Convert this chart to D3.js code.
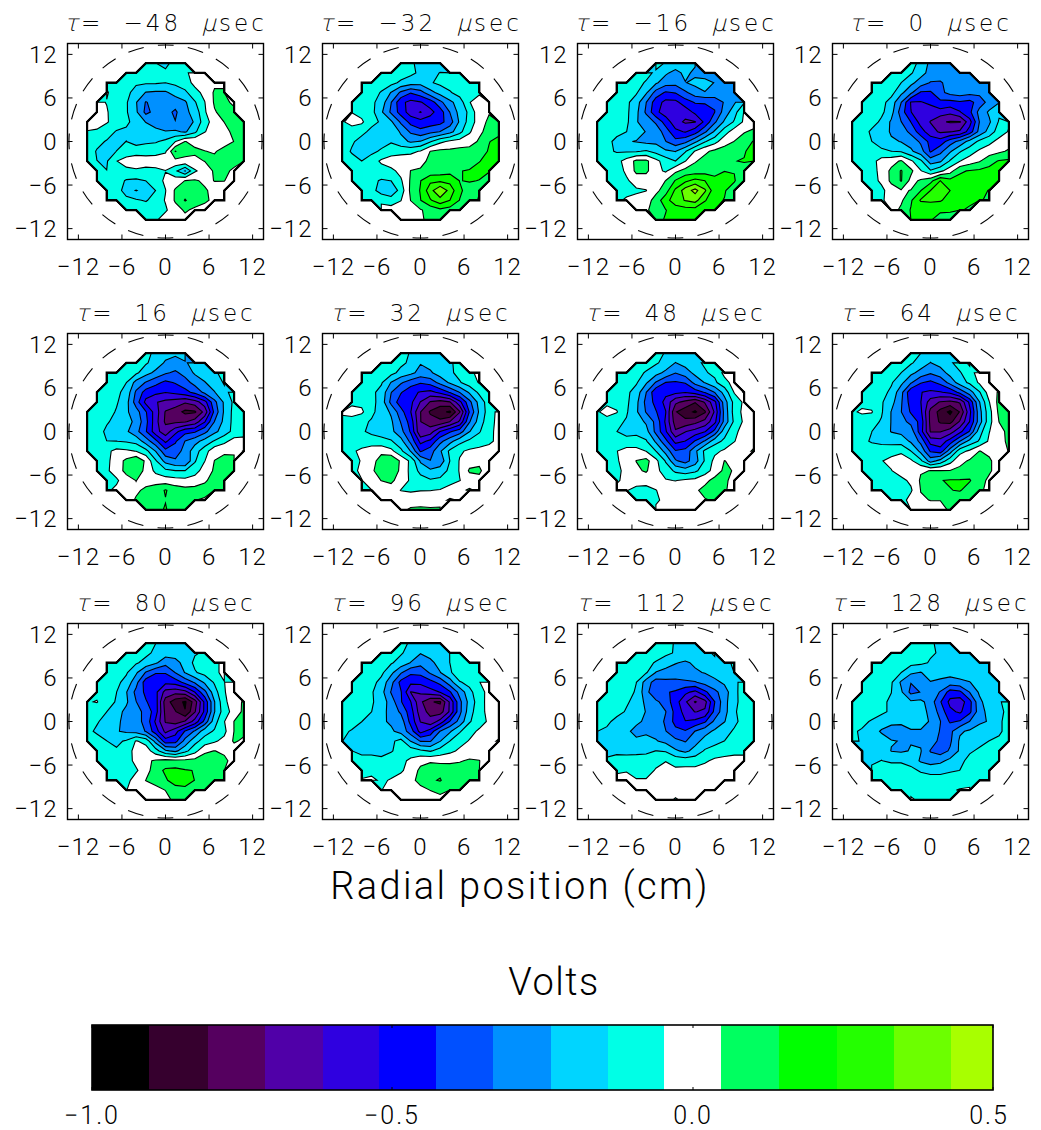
<!DOCTYPE html>
<html>
<head>
<meta charset="utf-8">
<script src="https://cdn.jsdelivr.net/npm/d3@7"></script>
<style>
  html, body { margin: 0; padding: 0; background: #fff; }
  text { font-family: Roboto, "Liberation Sans", sans-serif; font-weight: 300; fill: #000; white-space: pre; }
  text.title { font-family: "DejaVu Sans Light", "DejaVu Sans", Roboto, sans-serif; font-weight: 200; }
</style>
</head>
<body>
<div id="chart"></div>
<script>
// Floating potential maps, one panel per time delay. Grid values in hundredths of a volt,
// read off the picture. Rows run top (y = +10.8 cm) to bottom, each row centred on x = 0.
const tauValues = ["\u221248", "\u221232", "\u221216", "0", "16", "32", "48", "64", "80", "96", "112", "128"];

const gridM48 = [
  [-8,-14,-17,-10,-6],
  [-8,-8,-9,-10,-12,-9,-6,-2,-1],
  [-6,-7,-10,-13,-13,-13,-14,-12,-9,-2,0,3,3],
  [-4,-8,-12,-17,-24,-25,-25,-20,-16,-8,-2,6,6],
  [-3,-5,-8,-13,-23,-34,-29,-29,-29,-25,-15,-5,6,7,3],
  [-2,-4,-9,-13,-22,-36,-30,-30,-35,-26,-20,-6,4,8,7],
  [-2,-1,-4,-8,-12,-18,-24,-28,-31,-33,-31,-22,-9,0,5,9,8],
  [-5,-6,-9,-15,-16,-17,-18,-21,-23,-22,-25,-16,-5,-2,2,7,8],
  [-7,-11,-15,-16,-14,-18,-16,-15,-12,-5,5,3,1,0,1,5,8],
  [-8,-15,-18,-14,-10,-8,-8,-8,-6,14.6,7,6,5,4,8,8,7],
  [-9,-14,-15,-5,-1,0,-1,0,1,2,3,3,5,7,8,8,7],
  [-8,-14,-9,-7,-6,-7,-7,-5,-12,-24,-6,0,6,7,3],
  [-6,-8,-10,-15,-16,-14,-9,-3,0,5,6,3,5,5,1],
  [-10,-8,-20,-24,-20,-14,-5,6,9,10,6,2,0],
  [-6,-8,-10,-13,-15,-10,-4,6,15,9,7,2,0],
  [-6,-7,-8,-8,-6,1,6,3,0],
  [-7,-6,0,0,2]
];
const gridM32 = [
  [-9,-12,-18,-20,-16],
  [-7,-8,-9,-12,-16,-15,-14,-11,-12],
  [-6,-7,-8,-11,-16,-19,-20,-15,-12,-10,-12,-9,-7],
  [-7,-9,-15,-24,-35,-42,-37,-27,-20,-15,-10,-8,-6],
  [-6,-8,-12,-18,-33,-50,-55,-53,-48,-36,-26,-19,-5,-1,1],
  [-5,-8,-11,-22,-35,-47,-57,-62,-55,-48,-33,-20,-12,2,4],
  [-6,-1,-3,-12,-15,-22,-35,-46,-49,-48,-46,-38,-22,-10,0,7,7],
  [-9,-10,-12,-16,-17,-16,-25,-35,-40,-36,-33,-27,-17,-6,3,8,12],
  [-10,-13,-17,-19,-17,-15,-20,-25,-23,-15,-7,-3,-1,1,6,14,17],
  [-10,-15,-22,-16,-13,-9,-8,-7,-4,5,7,7,8,8,11,15,19],
  [-10,-11,-14,-10,-3,0,1,1,2,7,8,8,9,10,14,17,18],
  [-9,-10,-9,-9,-7,-2,5,6,8,9,11,14,15,17,15],
  [-9,-10,-12,-15,-14,-6,6,14,22,22,21,14,15,14,10],
  [-9,-11,-18,-22,-10,7,15,30,42,30,16,10,14],
  [-6,-5,-7,-9,-5,5,14,23,30,24,14,11,15],
  [-1,-1,0,1,4,8,12,10,7],
  [0,1,3,8,8]
];
const gridM16 = [
  [-10,-15,-17,-21,-22],
  [-9,-11,-16,-22,-27,-21,-26,-29,-26],
  [-8,-9,-11,-15,-22,-29,-30,-24,-21,-20,-24,-28,-24],
  [-8,-9,-13,-22,-37,-44,-42,-35,-28,-24,-24,-28,-26],
  [-8,-8,-12,-19,-33,-48,-55,-55,-47,-42,-42,-42,-32,-25,-15],
  [-8,-9,-12,-21,-35,-50,-57,-61,-58,-50,-47,-43,-29,-18,-4],
  [-9,-9,-10,-12,-23,-27,-35,-47,-58,-63,-62,-50,-35,-22,-13,-3,0],
  [-10,-10,-11,-14,-20,-24,-27,-38,-50,-53,-47,-35,-22,-9,0,4,7],
  [-10,-11,-17,-23,-24,-26,-26,-33,-40,-36,-26,-15,-8,1,5,10,15],
  [-10,-12,-15,-15,-15,-13,-17,-22,-24,-15,-4,3,7,9,11,13,20],
  [-10,-10,-8,-1,7,7,-2,-9,-14,-5,4,8,10,13,14,15,16],
  [-10,-9,-3,7,7,-2,-6,3,8,9,10,11,14,14,10],
  [-10,-14,-6,-1,-1,-2,5,15,22,27,24,17,20,15,8],
  [-9,-8,-6,-5,2,10,26,38,46,35,18,15,10],
  [-7,-3,-2,0,9,20,30,34,37,25,16,14,9],
  [-1,2,13,14,18,20,20,15,16],
  [12,15,17,15,14]
];
const grid0 = [
  [-10,-17,-26,-26,-27],
  [-9,-9,-13,-20,-27,-30,-28,-28,-28],
  [-7,-8,-9,-14,-21,-28,-34,-34,-31,-29,-28,-28,-27],
  [-7,-8,-11,-21,-31,-44,-44,-36,-30,-28,-30,-31,-33],
  [-7,-8,-11,-18,-33,-53,-53,-50,-45,-46,-44,-46,-38,-30,-24],
  [-8,-8,-12,-20,-38,-52,-60,-58,-56,-59,-53,-45,-30,-22,-16],
  [-8,-9,-10,-16,-25,-33,-43,-56,-62,-70,-72,-72,-56,-33,-25,-13,-6],
  [-8,-9,-16,-18,-25,-28,-36,-48,-58,-63,-62,-60,-48,-30,-20,-9,-4],
  [-8,-10,-14,-19,-22,-24,-27,-35,-46,-48,-38,-30,-20,-12,-7,-2,1],
  [-9,-10,-11,-12,-14,-15,-22,-29,-44,-36,-25,-15,-9,-3,0,3,6],
  [-9,-9,-8,-1,1,6,-3,-12,-28,-25,-13,-5,0,4,11,15,16],
  [-9,-8,-2,7,15,7,-4,-13,-7,1,13,15,16,17,15],
  [-9,-8,-3,7,15,2,6,11,24,17,17,16,18,18,14],
  [-8,-7,0,4,5,14,24,27,24,18,17,16,14],
  [-6,-6,-1,3,13,25,26,25,20,17,16,15,13],
  [0,7,15,16,16,16,16,15,13],
  [16,16,15,10,8]
];
const grid16 = [
  [-13,-15,-20,-22,-17],
  [-9,-10,-13,-18,-25,-27,-25,-19,-17],
  [-7,-8,-10,-12,-20,-26,-32,-35,-30,-22,-20,-16,-10],
  [-8,-9,-14,-27,-34,-40,-45,-42,-37,-30,-24,-20,-13],
  [-8,-9,-12,-17,-35,-47,-50,-52,-50,-46,-40,-31,-24,-17,-10],
  [-8,-9,-13,-20,-38,-55,-61,-64,-66,-70,-66,-56,-36,-22,-12],
  [-8,-9,-10,-15,-22,-29,-42,-57,-72,-76,-83,-82,-68,-40,-22,-11,-8],
  [-8,-9,-13,-17,-20,-26,-40,-58,-73,-73,-72,-67,-53,-33,-21,-11,-8],
  [-9,-10,-16,-19,-22,-30,-42,-58,-67,-55,-46,-44,-36,-26,-19,-11,-8],
  [-9,-11,-14,-14,-15,-17,-28,-40,-54,-44,-33,-27,-20,-13,-7,-1,-2],
  [-8,-9,-7,-2,-3,-5,-11,-24,-40,-38,-30,-18,-9,2,3,4,5],
  [-8,-7,0,7,13,3,-13,-27,-32,-33,-15,-5,5,8,6],
  [-8,-6,-1,8,11,2,-7,-12,-14,-14,-9,0,6,8,5],
  [-8,-6,0,5,1,1,0,-1,-2,0,4,7,7],
  [-6,-3,-1,3,7,10,15,10,8,8,7,7,6],
  [0,6,9,11,14,9,7,5,4],
  [8,12,15,10,6]
];
const grid32 = [
  [-10,-15,-17,-18,-17],
  [-9,-9,-12,-16,-23,-20,-17,-15,-12],
  [-7,-8,-9,-11,-17,-21,-27,-25,-19,-16,-11,-7,-2],
  [-8,-9,-13,-24,-32,-38,-42,-39,-30,-22,-15,-9,-4],
  [-7,-8,-12,-17,-33,-42,-50,-53,-55,-50,-42,-33,-22,-12,-6],
  [-7,-7,-11,-18,-36,-48,-50,-62,-72,-75,-72,-55,-36,-20,-9],
  [-3,-1,-3,-12,-18,-25,-39,-52,-71,-82,-88,-92,-72,-42,-22,-9,-2],
  [-8,-9,-12,-15,-17,-22,-34,-47,-71,-77,-78,-71,-60,-34,-19,-8,-2],
  [-9,-10,-13,-16,-18,-21,-30,-44,-70,-66,-52,-44,-38,-24,-15,-7,-2],
  [-9,-9,-9,-10,-11,-13,-20,-36,-55,-50,-36,-27,-17,-12,-9,-6,-3],
  [-8,-6,-3,1,3,-2,-12,-24,-44,-38,-25,-12,-6,-3,-2,-2,-2],
  [-8,-4,2,8,14,3,-7,-25,-33,-30,-14,-4,1,2,-3],
  [-7,-3,3,10,14,2,-7,-17,-22,-19,-12,-4,6,7,-3],
  [-5,0,5,7,0,-6,-10,-13,-12,-8,-5,0,1],
  [-6,-5,-2,0,-5,-6,-5,-5,-4,-1,3,6,3],
  [-1,0,1,1,0,1,2,6,4],
  [3,6,7,6,6]
];
const grid48 = [
  [-10,-15,-17,-17,-16],
  [-9,-10,-13,-17,-24,-20,-16,-13,-8],
  [-7,-8,-11,-15,-20,-26,-33,-28,-21,-15,-12,-2,0],
  [-7,-9,-13,-22,-34,-43,-44,-42,-30,-23,-16,-8,-1],
  [-7,-8,-12,-18,-33,-50,-50,-50,-52,-48,-42,-33,-20,-4,6],
  [-7,-8,-12,-21,-36,-46,-55,-69,-74,-80,-70,-55,-28,-11,-3],
  [-6,-1,-4,-13,-22,-34,-42,-52,-80,-86,-92,-82,-60,-30,-10,-2,-2],
  [-8,-9,-12,-15,-19,-25,-36,-54,-76,-78,-74,-68,-55,-30,-12,-3,-2],
  [-9,-10,-14,-17,-16,-20,-36,-51,-70,-62,-58,-53,-40,-18,-7,-1,-1],
  [-9,-9,-10,-11,-11,-13,-25,-40,-55,-52,-42,-32,-18,-12,-5,-1,2],
  [-8,-8,-5,-1,-1,-5,-14,-27,-42,-40,-26,-12,-7,-3,0,2,6],
  [-7,-6,0,5,8,-2,-15,-32,-37,-28,-13,-2,5,3,1],
  [-8,-7,-2,3,6,-2,-9,-16,-19,-16,-9,-1,7,4,0],
  [-6,-2,0,-1,0,-4,-5,-3,-2,2,8,7,1],
  [-2,-4,-8,-8,-5,-1,1,1,3,8,11,6,1],
  [-6,-9,-7,-1,0,1,2,4,6],
  [-2,0,1,1,1]
];
const grid64 = [
  [-10,-14,-18,-17,-16],
  [-9,-10,-13,-18,-24,-20,-16,-9,-3],
  [-7,-8,-10,-14,-21,-27,-32,-28,-20,-15,-8,-1,0],
  [-7,-9,-13,-21,-32,-42,-45,-40,-30,-19,-12,-3,0],
  [-7,-8,-11,-16,-30,-50,-52,-54,-53,-50,-40,-28,-15,0,6],
  [-7,-8,-13,-20,-32,-47,-52,-66,-72,-74,-70,-50,-24,-5,8],
  [-6,-3.5,-4,-13,-24,-33,-44,-50,-74,-84,-93,-80,-55,-27,-8,7,8],
  [-8,-9,-11,-15,-24,-30,-36,-46,-74,-82,-84,-70,-52,-28,-8,5,8],
  [-9,-10,-14,-19,-24,-26,-28,-48,-72,-72,-66,-55,-42,-18,-5,2,7],
  [-10,-12,-15,-17,-18,-18,-25,-36,-56,-58,-48,-33,-20,-13,-3,1,7],
  [-13,-9,-9,-8,-7,-6,-14,-26,-44,-48,-28,-8,-3,5,3,3,5],
  [-8,-7,-5,-3,-1,-3,-12,-28,-20,-8,2,6,8,6,1],
  [-8,-8,-7,-5,-1,0,4,5,5,5,7,10,9,6,1],
  [-8,-8,-9,-7,-3,6,8,14,15,15,15,8,3],
  [-7,-7,-10,-9,-6,5,8,10,14,15,10,6,3],
  [-8,-9,-1,4,5,5,7,8,6],
  [-4,0,1,2,6]
];
const grid80 = [
  [-9,-14,-16,-17,-15],
  [-9,-10,-12,-16,-19,-19,-18,-15,-13],
  [-7,-8,-10,-13,-17,-22,-30,-27,-20,-12,-10,-7,-2],
  [-7,-9,-13,-22,-34,-42,-42,-33,-23,-15,-11,-7,-2],
  [-7,-8,-12,-17,-30,-48,-50,-50,-48,-40,-32,-22,-13,-5,3],
  [-7,-9,-14,-23,-36,-45,-50,-65,-68,-65,-52,-36,-18,-6,5],
  [-5.5,-4.2,-10,-15,-22,-33,-42,-48,-76,-86,-92,-76,-50,-24,-7,1,6],
  [-8,-10,-14,-20,-26,-30,-36,-48,-74,-80,-90,-72,-50,-24,-9,-1,7],
  [-9,-13,-18,-22,-26,-30,-36,-54,-72,-76,-70,-58,-40,-18,-5,5,7],
  [-11,-16,-17,-23,-25,-27,-34,-48,-64,-56,-42,-32,-18,-13,-7,5,7],
  [-12,-9,-14,-16,-13,-4,-8,-27,-48,-46,-30,-17,-10,-6,-2,6,3],
  [-9,-11,-13,-7,-3,0,-10,-22,-26,-17,-8,3,5,3,0],
  [-9,-9,-13,-9,-2,3,6,8,7,7,8,10,12,7,1],
  [-8,-9,-10,-6,1,10,16,17,15,14,11,8,5],
  [-7,-7,-8,0,5,8,13,19,20,14,10,7,5],
  [-5,0,1,2,5,10,11,7,5],
  [1,1,2,7,7]
];
const grid96 = [
  [-12,-15,-18,-17,-15],
  [-9,-10,-13,-18,-23,-20,-18,-14,-11],
  [-7,-8,-10,-13,-18,-24,-30,-26,-20,-14,-8,-10,-6],
  [-7,-9,-12,-21,-32,-41,-40,-32,-24,-16,-6,-7,-5],
  [-7,-8,-11,-17,-30,-46,-50,-50,-46,-40,-28,-15,-11,-5,-1],
  [-7,-9,-13,-20,-34,-42,-62,-60,-56,-52,-44,-30,-17,-8,-2],
  [-7,-8,-10,-13,-18,-28,-42,-52,-69,-80,-82,-60,-36,-20,-9,-1,-1],
  [-8,-9,-11,-14,-20,-27,-35,-48,-67,-74,-76,-60,-36,-18,-8,-2,-1],
  [-9,-10,-14,-18,-22,-25,-28,-46,-62,-68,-58,-42,-30,-15,-9,-3,-1],
  [-12,-15,-18,-19,-20,-22,-27,-38,-56,-48,-33,-25,-15,-8,-3,-1,1],
  [-14,-16,-18,-18,-18,-16,-11,-24,-34,-34,-24,-14,-8,-4,-2,2,6],
  [-14,-17,-17,-17,-15,-10,-9,-12,-15,-10,-7,-3,-1,0,3],
  [-13,-10,-10,-12,-9,-7,-3,2,3,2,3,4,6,5,1],
  [-8,-7,-7,-8,-6,-1,7,12,12,9,9,8,5],
  [-4,-3,-6,-4,-1,2,8,13,15,9,9,8,6],
  [-5,-1,1,1,2,5,7,6,5],
  [0,0,0,1,2]
];
const grid112 = [
  [-8,-11,-15,-16,-15],
  [-7,-8,-9,-12,-15,-17,-18,-16,-13],
  [-7,-8,-9,-11,-15,-19,-23,-25,-22,-18,-16,-16,-13],
  [-7,-8,-10,-13,-24,-27,-28,-27,-25,-23,-20,-17,-14],
  [-7,-8,-10,-14,-28,-38,-36,-36,-35,-34,-30,-26,-22,-16,-11],
  [-7,-8,-11,-15,-30,-42,-42,-44,-50,-55,-45,-36,-28,-17,-9],
  [-6,-7,-9,-13,-17,-26,-31,-38,-48,-60,-72,-65,-43,-27,-16,-11,-8],
  [-7,-8,-11,-15,-19,-24,-29,-33,-46,-56,-62,-60,-40,-27,-15,-11,-8],
  [-10,-12,-17,-19,-22,-25,-27,-35,-46,-52,-50,-44,-31,-24,-16,-11,-9],
  [-14,-16,-19,-22,-26,-25,-26,-33,-40,-42,-33,-27,-22,-17,-13,-10,-8],
  [-14,-17,-18,-20,-22,-21,-23,-26,-31,-34,-27,-20,-17,-14,-11,-9,-8],
  [-16,-16,-17,-16,-16,-14,-15,-22,-26,-20,-13,-10,-7,-6,-6],
  [-13,-11,-10,-11,-10,-7,-5,-8,-9,-9,-6,-3,-3,-3,-3],
  [-6,-5,-8,-8,-4,-2,-3,-2,-2,-1,-1,-1,-1],
  [-2,-3,-4,-4,-3,-2,-1,-1,-1,0,0,0,0],
  [-1,-1,-1,-1,0,0,0,0,0],
  [0,-1,-6,-2,0]
];
const grid128 = [
  [-9,-9,-13,-16,-16],
  [-7,-8,-9,-10,-13,-15,-17,-15,-14],
  [-7,-8,-9,-10,-11,-12,-15,-16,-16,-16,-16,-16,-14],
  [-7,-8,-11,-14,-22,-24,-20,-21,-20,-19,-18,-17,-15],
  [-7,-8,-10,-13,-25,-33,-26,-24,-25,-28,-26,-24,-19,-16,-14],
  [-7,-8,-10,-14,-22,-36,-33,-27,-34,-47,-45,-33,-22,-17,-14],
  [-6,-8,-10,-13,-15,-19,-22,-21,-28,-42,-55,-58,-46,-26,-18,-15,-11],
  [-7,-8,-10,-13,-15,-17,-19,-20,-26,-37,-50,-54,-45,-28,-20,-16,-12],
  [-9,-12,-15,-17,-21,-22,-22,-22,-24,-33,-44,-42,-33,-25,-23,-15,-12],
  [-13,-15,-18,-25,-28,-27,-24,-24,-27,-34,-36,-25,-22,-20,-18,-15,-12],
  [-12,-15,-17,-18,-23,-24,-24,-25,-28,-36,-35,-22,-18,-16,-14,-13,-13],
  [-14,-15,-16,-24,-25,-23,-23,-34,-38,-32,-22,-15,-13,-12,-11],
  [-14,-15,-14,-15,-15,-17,-25,-28,-26,-21,-16,-12,-11,-10,-9],
  [-13,-12,-11,-11,-12,-15,-17,-17,-15,-14,-12,-10,-8],
  [-10,-9,-9,-9,-9,-10,-10,-10,-10,-9,-9,-6,-5],
  [-7,-8,-8,-8,-8,-7,-6,-4,-3],
  [-3,-7,-7,-6,-5]
];
const panelGrids = [gridM48, gridM32, gridM16, grid0, grid16, grid32, grid48, grid64, grid80, grid96, grid112, grid128];

// contour levels (hundredths of a volt) and the fill of each band, black end first
const levels = [-90.5, -80.7, -71.2, -61.6, -52.3, -42.8, -33.3, -23.6, -14.1, -4.7, 4.8, 14.3, 24, 33.5, 43];
const bandColors = ["#000000", "#36002e", "#55005f", "#5000a8", "#2f00e0", "#0000ff", "#0050ff", "#0090ff",
  "#00d5ff", "#00ffe6", "#ffffff", "#00ff60", "#00ff00", "#24ff00", "#6cff00", "#a8ff00"];
const axisTicks = [-12, -6, 0, 6, 12];
const barTicks = [-1.0, -0.5, 0.0, 0.5];

const width = 1041, height = 1130;
const boxSize = 196;
const cols = [67.5, 322.5, 577.5, 832.5];
const rows = [43.5, 333.5, 623.5];
const step = 1.35;      // probe spacing, cm
const gridN = 17;

const svg = d3.select("#chart").append("svg")
  .attr("width", width)
  .attr("height", height)
  .style("display", "block");

const x = d3.scaleLinear().domain([-13.5, 13.5]).range([0, boxSize]);
const y = d3.scaleLinear().domain([-13.5, 13.5]).range([boxSize, 0]);

// d3.contours puts node n at n + 0.5; one empty row/column is padded all round
const path = d3.geoPath(d3.geoTransform({
  point(cx, cy) {
    this.stream.point(x((cx - 0.5 - (gridN + 1) / 2) * step), y(((gridN + 1) / 2 - (cy - 0.5)) * step));
  }
}));

function flatten(grid) {
  const n = gridN + 2;
  const out = new Array(n * n).fill(NaN);
  grid.forEach((row, r) => {
    const off = (gridN - row.length) / 2;
    row.forEach((v, k) => { out[(r + 1) * n + off + k + 1] = v; });
  });
  return out;
}

const contours = d3.contours().size([gridN + 2, gridN + 2]);

panelGrids.forEach((grid, p) => {
  const g = svg.append("g")
    .attr("transform", `translate(${cols[p % 4]},${rows[Math.floor(p / 4)]})`);

  const values = flatten(grid);
  const outline = contours.thresholds([-1e6])(values)[0];
  const bands = contours.thresholds(levels)(values);

  g.append("path").attr("d", path(outline)).attr("fill", bandColors[0]);
  g.selectAll(".band").data(bands).enter().append("path")
    .attr("class", "band")
    .attr("d", path)
    .attr("fill", (d, i) => bandColors[i + 1]);
  g.selectAll(".line").data(bands).enter().append("path")
    .attr("class", "line")
    .attr("d", path)
    .attr("fill", "none")
    .attr("stroke", "#000")
    .attr("stroke-width", 1.1);
  g.append("path").attr("d", path(outline))
    .attr("fill", "none").attr("stroke", "#000").attr("stroke-width", 2.2);

  // chamber wall
  g.append("circle")
    .attr("cx", x(0)).attr("cy", y(0)).attr("r", x(13.3) - x(0))
    .attr("fill", "none").attr("stroke", "#000").attr("stroke-width", 1.1)
    .attr("stroke-dasharray", "16 14.3")
    .attr("stroke-dashoffset", -22.3);

  // box and ticks
  g.append("rect").attr("width", boxSize).attr("height", boxSize)
    .attr("fill", "none").attr("stroke", "#000").attr("stroke-width", 1.4);
  const tickLen = 5;
  axisTicks.forEach(t => {
    g.append("path").attr("stroke", "#000").attr("stroke-width", 1)
      .attr("d", `M${x(t)},0v${tickLen}M${x(t)},${boxSize}v${-tickLen}M0,${y(t)}h${tickLen}M${boxSize},${y(t)}h${-tickLen}`);
    const label = t < 0 ? "\u2212" + (-t) : String(t);
    g.append("text").attr("x", x(t)).attr("y", boxSize + 35)
      .attr("text-anchor", "middle").attr("font-size", 24).attr("letter-spacing", 1).text(label);
    g.append("text").attr("x", -10).attr("y", y(t) + 8.5)
      .attr("text-anchor", "end").attr("font-size", 24).attr("letter-spacing", 1).text(label);
  });

  const title = g.append("text").attr("class", "title").attr("x", boxSize / 2).attr("y", -13)
    .attr("text-anchor", "middle").attr("font-size", 23)
    .attr("letter-spacing", 3).attr("word-spacing", 10);
  title.append("tspan").attr("font-style", "italic").text("\u03c4");
  title.append("tspan").text("= " + tauValues[p] + " ");
  title.append("tspan").attr("font-style", "italic").text("\u03bc");
  title.append("tspan").text("sec");
});

svg.append("text").attr("x", 520).attr("y", 899)
  .attr("text-anchor", "middle").attr("font-size", 38).attr("letter-spacing", 2.35).text("Radial position (cm)");
svg.append("text").attr("x", 554).attr("y", 995)
  .attr("text-anchor", "middle").attr("font-size", 38).attr("letter-spacing", 1.5).text("Volts");

// colour bar
const barX = d3.scaleLinear().domain([-1, 0.5]).rangeRound([92, 993]);
const barTop = 1025, barH = 65;
const barEdges = [-100, ...levels, 50];
svg.selectAll(".swatch").data(bandColors).enter().append("rect")
  .attr("class", "swatch")
  .attr("x", (d, i) => barX(barEdges[i] / 100))
  .attr("y", barTop)
  .attr("width", (d, i) => barX(barEdges[i + 1] / 100) - barX(barEdges[i] / 100))
  .attr("height", barH)
  .attr("fill", d => d);
svg.append("rect").attr("x", barX(-1)).attr("y", barTop).attr("width", barX(0.5) - barX(-1)).attr("height", barH)
  .attr("fill", "none").attr("stroke", "#000").attr("stroke-width", 1.6);
barTicks.forEach(t => {
  svg.append("path").attr("stroke", "#000").attr("stroke-width", 1)
    .attr("d", `M${barX(t)},${barTop}v3M${barX(t)},${barTop + barH}v-3`);
  svg.append("text").attr("x", barX(t) - (t === 0.5 ? 4 : 0)).attr("y", 1124)
    .attr("text-anchor", "middle").attr("font-size", 25).attr("letter-spacing", 2)
    .text((t < 0 ? "\u2212" : "") + Math.abs(t).toFixed(1));
});
</script>
</body>
</html>
